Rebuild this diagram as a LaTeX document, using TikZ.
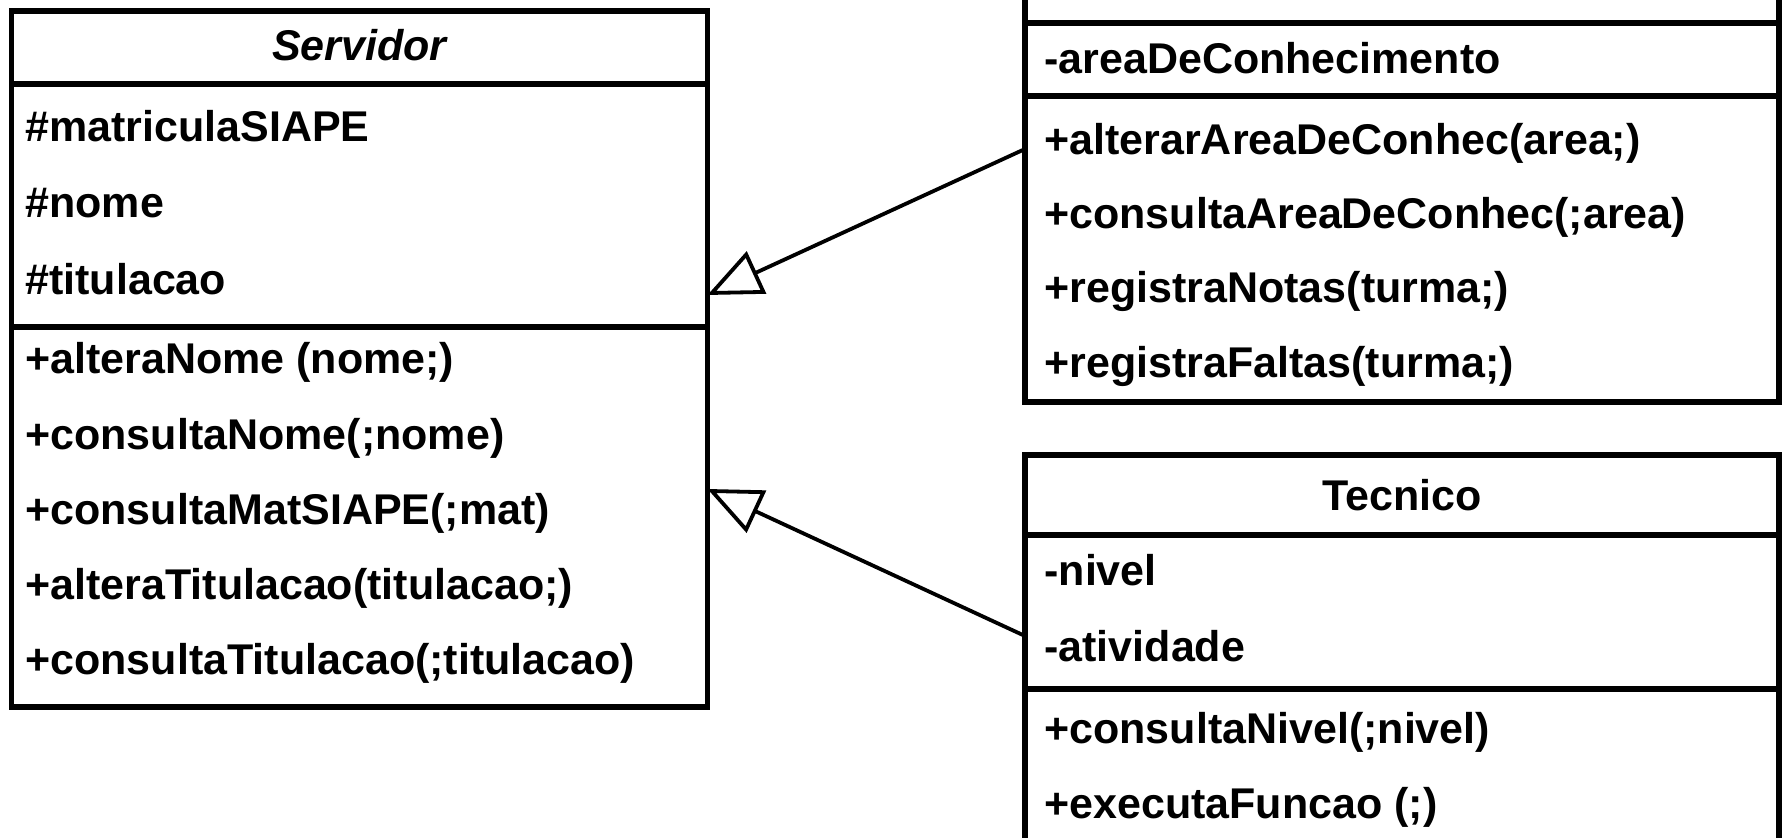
\documentclass[tikz,border=0pt]{standalone}
\usepackage{fontspec}
\setmainfont{Liberation Sans}
\usetikzlibrary{arrows.meta}
\begin{document}
\begin{tikzpicture}[x=0.5pt,y=-0.5pt,
  box/.style={draw, line width=2.8pt, inner sep=0pt, outer sep=0pt, anchor=north west},
  sep/.style={line width=2.8pt},
  txt/.style={anchor=base west, inner sep=0pt, font=\fontsize{21.5}{26}\selectfont\bfseries},
  ttl/.style={anchor=base, inner sep=0pt, font=\fontsize{21.5}{26}\selectfont\bfseries},
  gen/.style={line width=1.9pt, -{Triangle[open, length=27pt, width=23pt, line width=1.9pt]}}]
\useasboundingbox (0,0) rectangle (1785,838);
\clip (0,0) rectangle (1785,838);
\fill[white] (0,0) rectangle (1785,838);

% Servidor
\node[box, minimum width=348pt, minimum height=348pt] (serv) at (11.5,11) {};
\draw[sep] (serv.west |- 0,84) -- (serv.east |- 0,84);
\draw[sep] (serv.west |- 0,327) -- (serv.east |- 0,327);
\node[ttl, font=\fontsize{21.5}{26}\selectfont\bfseries\itshape] (servt) at (359.5,61) {Servidor};
\node[txt] (s1) at (25,142) {\#matriculaSIAPE};
\node[txt] (s2) at (25,218) {\#nome};
\node[txt] (s3) at (25,295) {\#titulacao};
\node[txt] (s4) at (25,374) {+alteraNome (nome;)};
\node[txt] (s5) at (25,450) {+consultaNome(;nome)};
\node[txt] (s6) at (25,525) {+consultaMatSIAPE(;mat)};
\node[txt] (s7) at (25,600) {+alteraTitulacao(titulacao;)};
\node[txt] (s8) at (25,675) {+consultaTitulacao(;titulacao)};

% upper class (name cut off)
\node[box, minimum width=377pt, minimum height=241pt] (prof) at (1025,-80) {};
\draw[sep] (prof.west |- 0,23) -- (prof.east |- 0,23);
\draw[sep] (prof.west |- 0,96) -- (prof.east |- 0,96);
\node[txt] (p1) at (1044,74) {-areaDeConhecimento};
\node[txt] (p2) at (1044,155) {+alterarAreaDeConhec(area;)};
\node[txt] (p3) at (1044,229) {+consultaAreaDeConhec(;area)};
\node[txt] (p4) at (1044,303) {+registraNotas(turma;)};
\node[txt] (p5) at (1044,378) {+registraFaltas(turma;)};

% Tecnico
\node[box, minimum width=377pt, minimum height=250pt] (tec) at (1025,455) {};
\draw[sep] (tec.west |- 0,535) -- (tec.east |- 0,535);
\draw[sep] (tec.west |- 0,689) -- (tec.east |- 0,689);
\node[ttl] (tect) at (1402,511) {Tecnico};
\node[txt] (t1) at (1044,586) {-nivel};
\node[txt] (t2) at (1044,662) {-atividade};
\node[txt] (t3) at (1044,744) {+consultaNivel(;nivel)};
\node[txt] (t4) at (1044,819) {+executaFuncao (;)};

% generalizations
\coordinate (pa) at (prof.west |- 0,149);
\coordinate (sa) at (serv.east |- 0,295);
\coordinate (ta) at (tec.west |- 0,636);
\coordinate (sb) at (serv.east |- 0,489);
\draw[gen] (pa) -- (sa);
\draw[gen] (ta) -- (sb);
\end{tikzpicture}
\end{document}
